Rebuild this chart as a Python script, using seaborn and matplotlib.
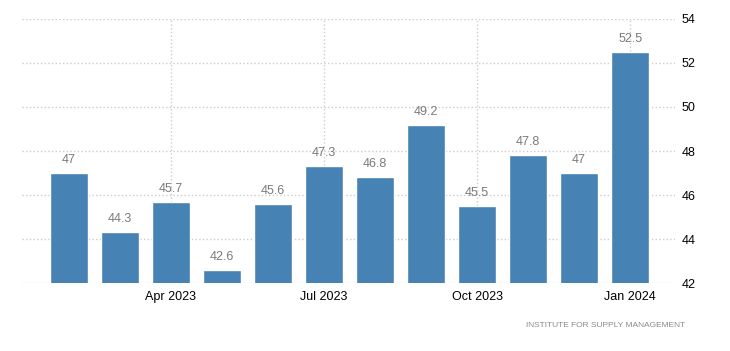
import matplotlib
matplotlib.use("Agg")
import matplotlib.pyplot as plt
import seaborn as sns
import pandas as pd

months = ["Feb 2023", "Mar 2023", "Apr 2023", "May 2023", "Jun 2023", "Jul 2023",
          "Aug 2023", "Sep 2023", "Oct 2023", "Nov 2023", "Dec 2023", "Jan 2024"]
values = [47, 44.3, 45.7, 42.6, 45.6, 47.3, 46.8, 49.2, 45.5, 47.8, 47, 52.5]
tick_months = ["Apr 2023", "Jul 2023", "Oct 2023", "Jan 2024"]
y_ticks = [42, 44, 46, 48, 50, 52, 54]
source = "INSTITUTE FOR SUPPLY MANAGEMENT"

sns.set_style("white")
plt.rcParams["font.family"] = ["Liberation Sans", "DejaVu Sans"]

df = pd.DataFrame({"month": months, "value": values})

fig = plt.figure(figsize=(7.3, 3.51), dpi=100)
ax = fig.add_axes([0.0301, 0.1937, 0.8946, 0.7522])

sns.barplot(
    data=df,
    x="month",
    y="value",
    order=months,
    color="#4682b4",
    saturation=1,
    width=0.75,
    ax=ax
)

# value labels
for i, v in enumerate(values):
    ax.annotate(
        f"{v:g}",
        (i, v),
        xytext=(0, 5),
        textcoords="offset points",
        ha="center",
        va="bottom",
        fontsize=9,
        color="#7a7a7a"
    )

ax.set_xlim(-0.92, 11.88)
ax.set_ylim(42, 54)

ax.set_xticks([months.index(m) for m in tick_months])
ax.set_xticklabels(tick_months)
ax.set_yticks(y_ticks)

ax.yaxis.tick_right()
ax.tick_params(axis="y", length=0, pad=5, labelsize=9, labelcolor="black")
ax.tick_params(axis="x", length=4, color="#cccccc", pad=2, labelsize=9,
               labelcolor="black")

ax.grid(True, linestyle=":", color="#cccccc", linewidth=1)
ax.set_axisbelow(True)

for s in ax.spines.values():
    s.set_visible(False)

ax.set_xlabel("")
ax.set_ylabel("")

fig.text(
    0.939, 0.072,
    source,
    ha="right",
    va="center",
    fontsize=6,
    color="#8a8a8a"
)

fig.savefig("out.png", dpi=100)
plt.close()
